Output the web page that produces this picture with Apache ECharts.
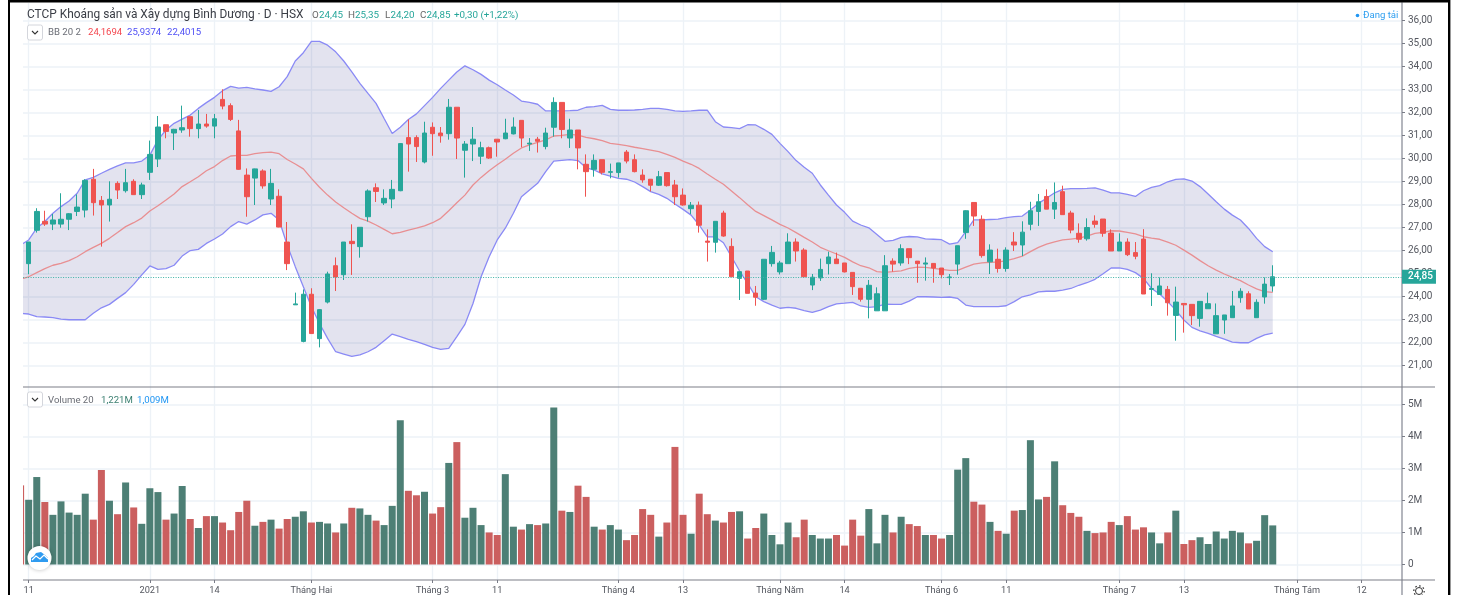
<!DOCTYPE html>
<html><head><meta charset="utf-8">
<style>html,body{margin:0;padding:0;background:#fff}#c{width:1459px;height:595px}</style>
<script src="https://cdn.jsdelivr.net/npm/echarts@6/dist/echarts.min.js"></script>
</head><body><div id="c"></div>
<script>
const opens=[26.2,25.42,26.87,27.26,27.14,27.14,27.35,27.69,27.75,29.09,
28.17,27.97,28.91,28.59,29.0,28.42,29.39,29.97,31.46,31.1,
31.23,31.81,31.29,31.49,31.4,32.56,32.29,31.19,29.27,29.14,
29.45,28.23,28.35,26.36,23.63,22.04,24.09,22.16,23.75,25.33,
24.94,26.39,26.16,27.46,28.72,28.06,28.23,28.59,30.9,30.9,
29.84,31.35,31.1,31.07,32.22,30.35,30.62,30.09,30.46,30.83,
30.85,31.06,31.65,30.62,30.83,30.51,31.35,32.43,30.88,31.23,
29.74,29.52,29.94,29.39,29.38,30.27,29.94,29.27,29.09,28.83,
29.38,28.84,28.4,27.81,27.96,26.4,26.35,27.62,26.17,24.78,
25.1,24.14,23.87,25.42,25.06,25.42,26.36,26.01,24.49,24.8,
25.42,25.62,25.45,25.04,24.35,23.87,23.37,23.37,25.53,25.45,
26.07,25.53,25.4,25.43,25.23,24.81,25.4,26.77,28.08,27.35,
25.5,25.61,25.21,26.36,26.23,27.13,27.69,28.34,27.79,28.55,
27.62,26.74,26.5,27.27,27.36,26.75,25.97,26.36,25.9,26.49,
24.3,24.08,24.3,23.17,23.69,23.65,23.04,23.46,22.37,22.97,
23.07,23.94,24.11,23.07,23.97,24.45];
const closes=[25.3,26.36,27.69,27.14,27.32,27.35,27.59,27.88,29.04,28.07,
27.97,28.22,28.62,28.94,28.42,28.84,30.17,31.36,31.17,31.26,
31.33,31.29,31.49,31.4,31.72,32.27,31.69,29.52,28.33,29.54,
28.8,28.91,27.01,25.42,23.67,24.09,22.38,23.42,24.97,24.84,
26.36,26.29,27.0,28.58,28.56,28.26,28.65,30.64,30.62,30.51,
31.1,31.07,30.98,32.22,30.88,30.62,30.83,30.46,30.01,30.71,
31.1,31.36,30.88,30.66,30.74,31.1,32.43,31.25,31.23,30.45,
29.42,29.91,29.39,29.42,29.8,29.88,29.42,29.06,28.83,29.2,
28.81,28.33,27.97,27.96,27.09,26.35,27.26,26.62,24.85,25.07,
24.13,23.96,25.61,25.91,25.45,26.36,25.97,24.85,24.83,25.17,
25.71,25.42,25.06,24.42,23.87,24.48,24.11,25.33,25.4,26.07,
25.68,25.42,25.45,25.23,24.94,24.84,26.2,27.72,27.49,25.77,
26.01,25.21,26.01,26.23,26.79,27.72,28.11,27.79,28.08,27.55,
26.88,26.48,26.99,27.13,26.74,25.97,26.36,25.81,25.74,24.1,
24.34,24.45,23.72,23.75,23.63,23.16,23.78,23.68,23.16,23.19,
23.58,24.22,23.45,23.74,24.53,24.85];
const lows=[25.2,24.96,26.77,27.06,26.88,26.98,26.88,27.49,27.43,27.51,
26.16,27.25,28.23,28.51,28.42,28.23,29.06,29.62,30.87,30.36,
31.11,30.94,30.87,31.33,30.87,32.13,31.62,29.5,27.46,27.97,
28.68,27.97,27.0,25.14,23.63,22.0,22.38,21.78,23.69,24.23,
24.71,24.93,25.68,27.25,28.1,27.97,27.83,28.57,29.42,29.84,
29.78,30.11,30.68,30.81,29.97,29.16,29.88,29.75,29.97,30.07,
30.83,31.04,30.48,30.32,30.25,30.39,30.94,30.87,30.45,29.52,
28.33,29.2,29.3,29.13,29.16,29.78,29.39,28.94,28.56,28.8,
28.77,27.97,27.94,27.58,26.77,25.51,25.9,26.59,24.85,23.84,
24.13,23.59,23.84,25.29,24.95,25.42,25.51,24.85,24.27,24.67,
24.95,25.42,25.04,24.06,23.77,23.04,23.37,23.37,25.07,25.33,
25.4,24.59,24.68,24.59,24.78,24.49,24.94,26.5,27.06,25.68,
24.97,25.03,25.07,25.97,25.75,26.87,27.06,27.79,27.36,27.55,
26.74,26.33,26.42,26.98,26.59,25.97,25.97,25.75,25.61,24.1,
23.58,24.08,23.16,22.07,22.42,22.75,22.68,23.46,22.37,22.37,
23.07,23.72,23.45,23.07,23.68,24.2];
const highs=[26.3,26.36,27.83,27.72,27.58,28.48,27.62,28.43,29.09,29.54,
28.36,29.0,29.0,29.54,29.09,28.94,30.77,31.84,31.46,31.28,
32.29,31.81,32.1,31.93,31.93,33.0,32.39,31.67,29.56,29.55,
29.52,29.54,28.65,27.23,24.16,24.3,24.35,23.44,25.07,25.69,
26.36,27.13,27.0,28.65,28.91,28.65,29.06,30.66,31.69,31.0,
31.59,31.56,31.36,32.58,32.22,30.75,31.36,30.72,30.51,30.83,
31.72,31.78,31.65,30.88,30.93,31.33,32.65,32.43,31.72,31.23,
30.17,30.17,29.94,29.77,29.8,30.36,30.17,29.52,29.09,29.45,
29.38,29.06,28.69,28.1,28.12,26.91,27.26,27.72,26.52,25.07,
25.1,24.45,25.61,26.19,25.54,26.74,26.52,26.09,24.97,25.64,
25.94,25.9,25.45,25.04,24.35,24.71,24.39,25.79,25.65,26.26,
26.07,25.53,25.69,25.43,25.23,24.97,26.2,27.74,28.08,27.52,
26.26,26.07,26.13,26.79,27.26,28.11,28.45,28.65,28.95,28.81,
27.72,27.17,27.39,27.52,27.36,26.91,26.74,26.52,26.36,26.92,
25.0,24.82,24.45,24.42,23.69,23.65,23.78,24.16,23.69,23.19,
24.23,24.35,24.22,23.87,24.82,25.35];
const volumes=[2.47,2.02,2.73,1.95,1.55,1.97,1.62,1.55,2.21,1.40,
2.95,1.99,1.57,2.56,1.78,1.27,2.38,2.26,1.40,1.59,
2.45,1.42,1.14,1.51,1.51,1.31,1.07,1.64,1.99,1.21,
1.33,1.40,1.12,1.42,1.49,1.66,1.31,1.33,1.28,1.0,
1.28,1.77,1.75,1.55,1.37,1.23,1.83,4.50,2.30,2.16,
2.27,1.59,1.79,3.17,3.82,1.46,1.77,1.23,1.0,0.92,
2.82,1.18,1.09,1.26,1.23,1.28,4.90,1.68,1.64,2.46,
2.11,1.18,1.09,1.23,1.09,0.76,0.92,1.73,1.55,0.87,
1.31,3.67,1.55,0.96,2.21,1.57,1.37,1.31,1.64,1.66,
0.81,1.14,1.59,0.92,0.63,1.31,0.85,1.40,0.92,0.81,
0.81,0.92,0.59,1.40,0.90,1.73,0.66,1.55,1.0,1.49,
1.26,1.20,0.92,0.92,0.81,0.92,2.96,3.32,1.96,1.87,
1.33,1.05,0.96,1.68,1.70,3.88,2.03,2.11,3.22,1.85,
1.61,1.49,1.05,0.98,1.0,1.33,1.23,1.51,1.09,1.16,
1.0,0.66,1.0,1.68,0.64,0.76,0.85,0.64,1.03,0.81,
1.05,1.0,0.66,0.74,1.54,1.22];
const bbUpper=[26.23,26.45,26.96,27.25,27.61,27.9,28.14,28.48,29.06,29.17,
29.35,29.52,29.67,29.8,29.8,29.88,30.14,30.8,31.23,31.52,
31.7,31.88,32.17,32.42,32.65,32.94,33.13,33.05,33.08,33.02,
32.97,32.91,33.11,33.55,34.23,34.59,35.08,35.08,34.92,34.63,
34.23,33.76,33.26,32.82,32.39,31.73,31.08,31.35,31.69,31.93,
32.29,32.65,33.04,33.4,33.75,34.02,33.85,33.65,33.4,33.2,
32.97,32.75,32.49,32.43,32.35,32.06,32.06,32.06,32.07,32.09,
32.22,32.25,32.3,32.13,32.09,32.09,32.1,32.13,32.17,32.17,
32.13,32.06,32.04,32.06,32.09,32.09,31.59,31.36,31.33,31.29,
31.46,31.45,31.26,31.04,30.65,30.29,29.9,29.61,29.35,28.84,
28.4,27.97,27.65,27.27,27.1,26.98,26.69,26.39,26.43,26.56,
26.6,26.58,26.5,26.48,26.46,26.27,26.33,26.81,27.32,27.32,
27.34,27.36,27.42,27.46,27.49,27.75,28.04,28.26,28.5,28.65,
28.68,28.68,28.69,28.71,28.62,28.5,28.5,28.43,28.34,28.59,
28.74,28.81,28.98,29.08,29.11,29.01,28.77,28.45,28.11,27.79,
27.53,27.32,26.95,26.52,26.16,25.94];
const bbLower=[23.26,23.23,23.12,23.1,23.07,23.01,22.98,22.98,22.98,23.26,
23.5,23.65,23.91,24.16,24.52,24.93,25.32,25.17,25.2,25.35,
25.75,25.99,26.04,26.3,26.49,26.71,27.03,27.25,27.14,27.32,
27.54,27.61,27.32,26.23,25.29,24.42,23.55,22.82,22.17,21.59,
21.49,21.39,21.45,21.59,21.78,22.07,22.36,22.25,22.13,22.03,
21.91,21.78,21.69,21.74,22.25,22.78,23.69,24.85,25.72,26.45,
26.96,27.61,28.33,28.62,28.91,29.42,29.88,29.91,29.94,29.9,
29.59,29.49,29.32,29.23,29.13,29.09,28.97,28.77,28.55,28.43,
28.26,28.01,27.78,27.53,27.1,26.58,26.58,26.33,25.72,25.1,
24.56,23.98,23.77,23.62,23.48,23.52,23.48,23.38,23.3,23.4,
23.55,23.67,23.7,23.74,23.58,23.52,23.55,23.66,23.65,23.65,
23.79,23.98,23.98,23.97,23.95,23.97,23.91,23.62,23.55,23.55,
23.55,23.55,23.59,23.77,23.98,24.06,24.19,24.22,24.22,24.27,
24.34,24.48,24.59,24.74,24.98,25.23,25.24,25.17,25.03,24.78,
24.34,24.1,23.77,23.4,22.97,22.65,22.5,22.39,22.26,22.14,
22.01,21.98,21.98,22.17,22.32,22.4];
const bbBasis=[24.75,24.85,25.03,25.2,25.35,25.43,25.55,25.72,25.94,26.13,
26.3,26.52,26.77,27.03,27.2,27.4,27.71,27.94,28.19,28.45,
28.77,28.98,29.2,29.46,29.64,29.9,30.1,30.13,30.13,30.2,
30.25,30.27,30.2,29.95,29.75,29.54,29.13,28.74,28.4,28.1,
27.85,27.61,27.39,27.27,27.1,26.91,26.72,26.78,26.88,26.96,
27.06,27.2,27.39,27.72,28.07,28.4,28.84,29.17,29.46,29.72,
29.96,30.22,30.45,30.58,30.69,30.8,30.97,31.0,31.04,31.01,
30.91,30.85,30.77,30.65,30.61,30.55,30.48,30.42,30.36,30.29,
30.17,30.04,29.88,29.74,29.56,29.32,29.09,28.87,28.58,28.29,
27.98,27.69,27.51,27.32,27.13,26.97,26.77,26.56,26.36,26.13,
25.98,25.84,25.69,25.5,25.33,25.24,25.07,25.04,25.07,25.11,
25.21,25.27,25.26,25.21,25.17,25.13,25.13,25.27,25.4,25.45,
25.48,25.49,25.55,25.64,25.75,25.94,26.13,26.27,26.37,26.45,
26.49,26.53,26.62,26.74,26.78,26.85,26.84,26.78,26.71,26.59,
26.53,26.48,26.36,26.22,26.01,25.79,25.55,25.33,25.14,24.97,
24.82,24.68,24.49,24.32,24.2,24.17];
const xTickIndex=[1,16,24,36,51,59,74,82,94,102,114,122,136,144,158,166];
const xTickLabels=['11','2021','14','Tháng Hai','Tháng 3','11','Tháng 4','13','Tháng Năm','14','Tháng 6','11','Tháng 7','13','Tháng Tám','12'];
const barCount=172;
const lastPrice=24.85;

const UP='#26a69a',DOWN='#ef5350',VUP='#4d7f75',VDOWN='#cb5f5f',GRID='#edf2f7',TXT='#54575f',FONT='Roboto, "Open Sans", sans-serif';
const categories=Array.from({length:barCount},()=> '');
xTickIndex.forEach((idx,k)=>{categories[idx]=xTickLabels[k];});
const isTick=(i,v)=>v!=='';
const candles=opens.map((o,i)=>[o,closes[i],lows[i],highs[i]]);
const vols=volumes.map((v,i)=>({value:v,itemStyle:{color:closes[i]>=opens[i]?VUP:VDOWN}}));
const lineSeries=(name,data,color)=>({name,type:'line',data,xAxisIndex:0,yAxisIndex:0,showSymbol:false,symbol:'none',z:3,silent:true,lineStyle:{color,width:1.3},itemStyle:{color}});
const txt=(x,y,text,fill,size,extra)=>Object.assign({type:'text',x,y,z:100,silent:true,style:Object.assign({text,fill,font:(size||11)+'px '+FONT,textVerticalAlign:'middle'},extra||{})});
const rect=(x,y,w,h,fill)=>({type:'rect',z:90,silent:true,shape:{x,y,width:w,height:h},style:{fill}});
const hline=(y)=>({type:'line',z:95,silent:true,shape:{x1:23,y1:y,x2:1435,y2:y},style:{stroke:'#7d7f88',lineWidth:1.2}});
const btn=(y)=>[
 {type:'rect',z:100,silent:true,shape:{x:27.5,y,width:15,height:15,r:2},style:{fill:'#fff',stroke:'#d4d6dc',lineWidth:1}},
 {type:'polyline',z:101,silent:true,shape:{points:[[32,y+6],[35,y+9],[38,y+6]]},style:{fill:'none',stroke:'#333',lineWidth:1.1}}
];
const chart=echarts.init(document.getElementById('c'),null,{renderer:'canvas'});
const xBase={type:'category',data:categories,boundaryGap:false,axisPointer:{show:false},
 splitLine:{show:true,interval:isTick,lineStyle:{color:GRID,width:1.4}}};
chart.setOption({
 animation:false,backgroundColor:'#fff',
 grid:[{left:20.6,right:57,top:3,height:384},{left:20.6,right:57,top:387,height:193}],
 xAxis:[
  Object.assign({},xBase,{gridIndex:0,axisLine:{show:false,onZero:false},axisTick:{show:false},axisLabel:{show:false}}),
  Object.assign({},xBase,{gridIndex:1,axisLine:{show:false,onZero:false},
   axisTick:{show:true,interval:isTick,length:3,lineStyle:{color:'#787b86'}},
   axisLabel:{show:true,interval:isTick,margin:6,color:TXT,fontSize:9.2,fontFamily:FONT,hideOverlap:false,showMinLabel:true,showMaxLabel:true}})
 ],
 yAxis:[
  {type:'value',gridIndex:0,position:'right',min:20.057,max:36.752,splitNumber:17,
   axisLine:{show:true,lineStyle:{color:'#b4b6bd',width:2}},axisTick:{show:true,length:3,lineStyle:{color:'#787b86'}},
   splitLine:{show:true,showMinLine:false,showMaxLine:false,lineStyle:{color:GRID,width:1.5}},
   axisLabel:{color:TXT,fontSize:10,fontFamily:FONT,margin:6,padding:[2,0,0,0],showMinLabel:false,showMaxLabel:false,
    formatter:v=>v.toFixed(2).replace('.',',')}},
  {type:'value',gridIndex:1,position:'right',min:-0.484,max:5.54,splitNumber:6,
   axisLine:{show:true,lineStyle:{color:'#b4b6bd',width:2}},axisTick:{show:true,length:3,lineStyle:{color:'#787b86'}},
   splitLine:{show:true,showMinLine:false,showMaxLine:false,lineStyle:{color:GRID,width:1.5}},
   axisLabel:{color:TXT,fontSize:10,fontFamily:FONT,margin:6,padding:[2,0,0,0],showMinLabel:false,showMaxLabel:false,
    formatter:v=>v===0?'0':v+'M'}}
 ],
 series:[
  {name:'band',type:'custom',xAxisIndex:0,yAxisIndex:0,z:2,silent:true,
   data:bbUpper.map((v,i)=>[i,v]),encode:{x:0,y:1},
   renderItem:(params,api)=>{
    if(params.dataIndex!==0)return null;
    const top=bbUpper.map((v,i)=>api.coord([i,v]));
    const bot=bbLower.map((v,i)=>api.coord([i,v])).reverse();
    return {type:'polygon',shape:{points:top.concat(bot)},style:{fill:'rgba(40,40,130,0.13)'}};
   }},
  lineSeries('BB upper',bbUpper,'#8a8af5'),
  lineSeries('BB lower',bbLower,'#8a8af5'),
  lineSeries('BB basis',bbBasis,'#e88f92'),
  {name:'Price',type:'candlestick',xAxisIndex:0,yAxisIndex:0,z:5,silent:true,data:candles,barWidth:5,
   itemStyle:{color:UP,color0:DOWN,borderColor:UP,borderColor0:DOWN,borderWidth:1},
   markLine:{silent:true,symbol:'none',animation:false,z:6,
    lineStyle:{type:[1,1.5],color:'#3fb3a8',width:1.2},
    data:[{yAxis:lastPrice}],
    label:{position:'end',distance:0,formatter:()=>lastPrice.toFixed(2).replace('.',','),backgroundColor:UP,color:'#fff',padding:[2,3,2,6],fontSize:10,fontFamily:FONT,fontWeight:500}}},
  {name:'Volume',type:'bar',xAxisIndex:1,yAxisIndex:1,data:vols,barWidth:7,silent:true,z:3}
 ],
 graphic:[
  rect(10,3,13,592,'#fff'),
  rect(8,0,1442,2.6,'#000'),
  rect(8,0,2,595,'#000'),
  rect(1448,0,2.4,595,'#000'),
  rect(1401,580,2,15,'#b4b6bd'),
  hline(387),hline(580),
  txt(27,15.5,'CTCP Khoáng sản và Xây dựng Bình Dương · D · HSX','#3a3d45',11.9),
  txt(312,15.5,'O','#666',9.8),txt(319,15.5,'24,45',UP,9.8),
  txt(348,15.5,'H','#666',9.8),txt(355,15.5,'25,35',UP,9.8),
  txt(385,15.5,'L','#666',9.8),txt(390.5,15.5,'24,20',UP,9.8),
  txt(420,15.5,'C','#666',9.8),txt(426.5,15.5,'24,85',UP,9.8),
  txt(454,15.5,'+0,30 (+1,22%)',UP,9.8),
  ...btn(25),
  txt(48,33,'BB 20 2','#6a6d75',9.6),
  txt(88,33,'24,1694','#f4474f',9.6),
  txt(127,33,'25,9374','#5050f5',9.6),
  txt(167,33,'22,4015','#5050f5',9.6),
  ...btn(392),
  txt(48,400.5,'Volume 20','#6a6d75',9.6),
  txt(101,400.5,'1,221M','#3a7f70',9.6),
  txt(137,400.5,'1,009M','#2196f3',9.6),
  {type:'circle',z:100,silent:true,shape:{cx:39.5,cy:558,r:12},style:{fill:'#fff',shadowBlur:4,shadowColor:'rgba(0,0,0,0.25)'}},
  {type:'polygon',z:101,silent:true,shape:{points:[[31,562],[31,558],[34,556],[36,553],[41,552],[45,555],[48,558],[48,562]]},style:{fill:'#2f9bf0'}},
  {type:'polyline',z:102,silent:true,shape:{points:[[32,560],[36,556],[40,559],[44,555],[48,559]]},style:{fill:'none',stroke:'#fff',lineWidth:1.2}},
  {type:'circle',z:100,silent:true,shape:{cx:1357.5,cy:15.5,r:1.8},style:{fill:'#2196f3'}},
  txt(1363,15.5,'Đang tải','#2f9ff0',9.6),
  {type:'circle',z:100,silent:true,shape:{cx:1419,cy:591,r:3.5},style:{fill:'#fff',stroke:'#333',lineWidth:1}},
  {type:'circle',z:100,silent:true,shape:{cx:1419,cy:591,r:5.2},style:{fill:'none',stroke:'#333',lineWidth:1.2,lineDash:[1.6,2.4]}}
 ]
});
</script></body></html>
